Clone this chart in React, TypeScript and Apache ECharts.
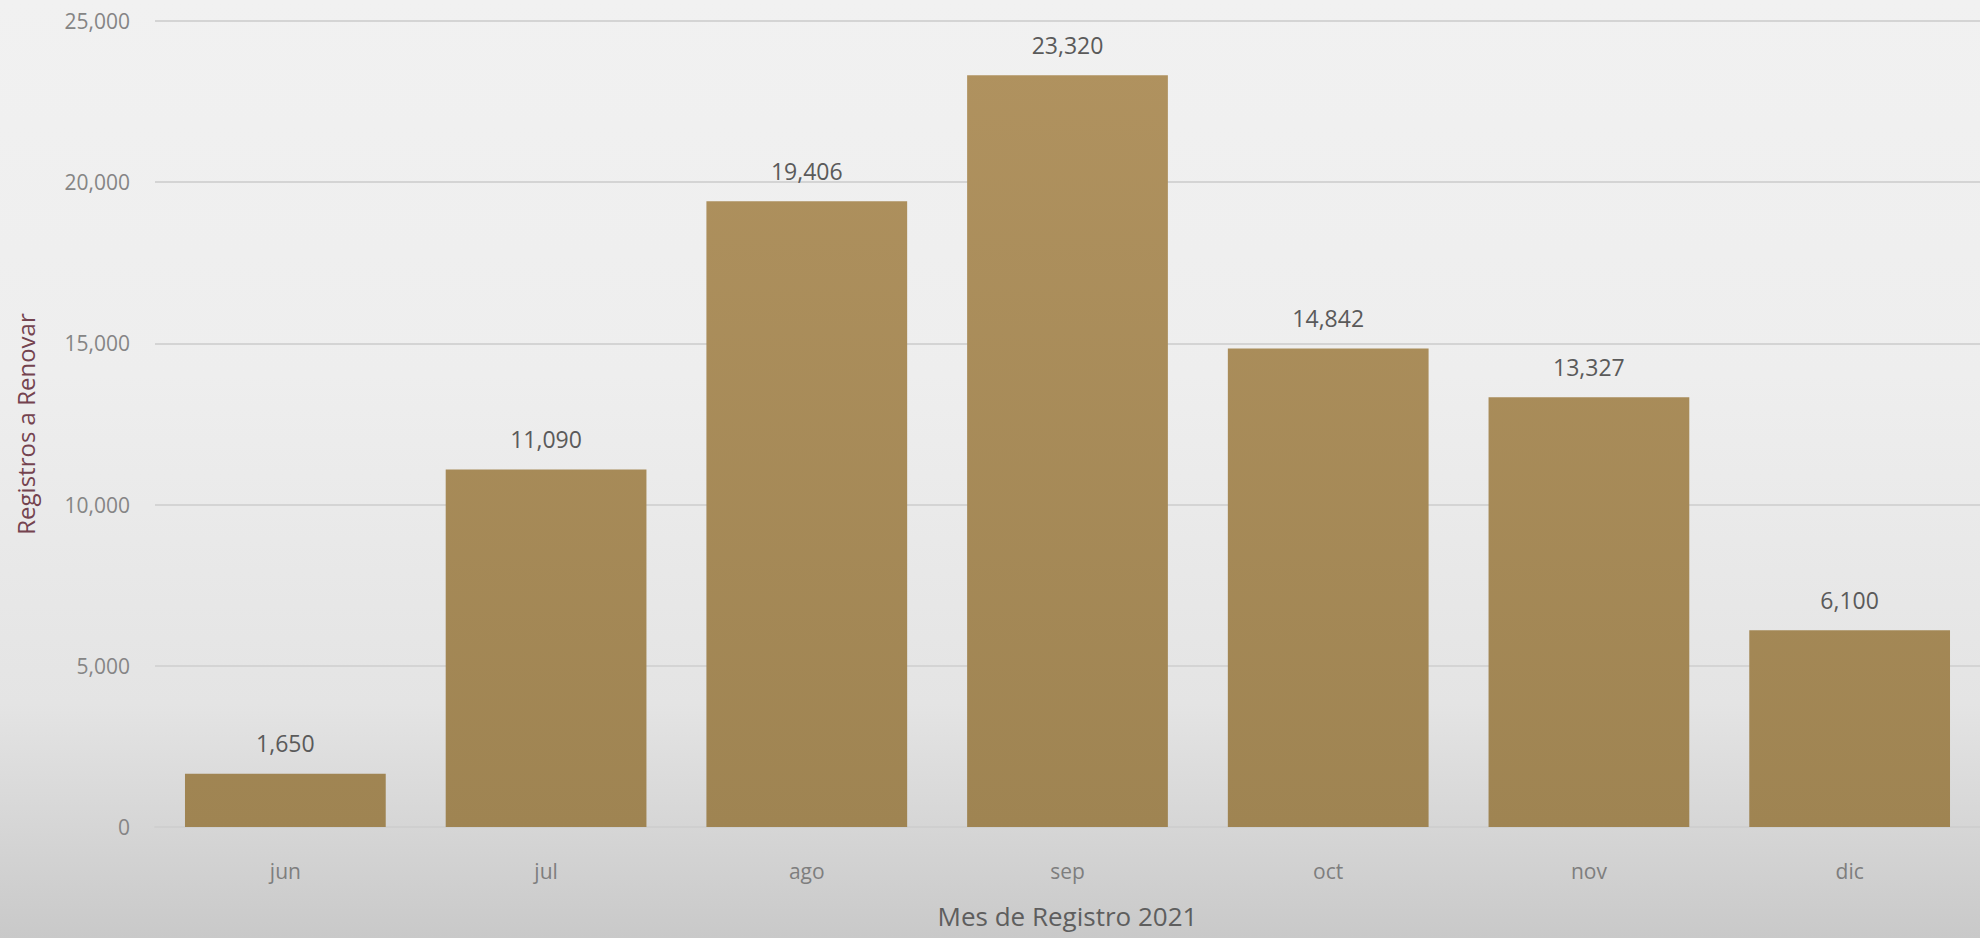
import React, { useEffect, useRef } from "react";
import * as echarts from "echarts";

const months = ["jun", "jul", "ago", "sep", "oct", "nov", "dic"];
const registros = [1650, 11090, 19406, 23320, 14842, 13327, 6100];
const yMin = 0;
const yMax = 25000;
const yInterval = 5000;
const xTitle = "Mes de Registro 2021";
const yTitle = "Registros a Renovar";

const FONT = "'Open Sans', 'Noto Sans', sans-serif";
const fmt = (v: number) => v.toLocaleString("en-US");

export default function App() {
  const ref = useRef<HTMLDivElement>(null);

  useEffect(() => {
    if (!ref.current) return;
    const chart = echarts.init(ref.current, null, { renderer: "svg" });
    chart.setOption({
      animation: false,
      backgroundColor: "transparent",
      grid: { left: 155, right: -2, top: 21, bottom: 111, containLabel: false },
      xAxis: {
        type: "category",
        data: months,
        axisLine: { show: true, lineStyle: { color: "#cfcfcf", width: 2 } },
        axisTick: { show: false },
        axisLabel: { color: "#7e7e7e", fontSize: 21, fontFamily: FONT, margin: 33 },
        name: xTitle,
        nameLocation: "middle",
        nameGap: 76,
        nameTextStyle: { color: "#5e5e5e", fontSize: 26, fontFamily: FONT },
      },
      yAxis: {
        type: "value",
        min: yMin,
        max: yMax,
        interval: yInterval,
        axisLine: { show: false },
        axisTick: { show: false },
        axisLabel: {
          color: "#858585",
          fontSize: 21,
          fontFamily: FONT,
          margin: 25,
          formatter: (v: number) => fmt(v),
        },
        splitLine: { lineStyle: { color: "#d4d4d4", width: 2 } },
        name: yTitle,
        nameLocation: "middle",
        nameGap: 118,
        nameTextStyle: { color: "#74434f", fontSize: 24, fontFamily: FONT },
      },
      series: [
        {
          type: "bar",
          data: registros,
          barCategoryGap: "23%",
          itemStyle: {
            color: {
              type: "linear",
              x: 0,
              y: 60,
              x2: 0,
              y2: 827,
              global: true,
              colorStops: [
                { offset: 0, color: "#b0925f" },
                { offset: 1, color: "#9f8452" },
              ],
            },
          },
          label: {
            show: true,
            position: "top",
            distance: 19,
            color: "#5a5a5a",
            fontSize: 23,
            fontFamily: FONT,
            formatter: (p: any) => fmt(p.value),
          },
        },
      ],
    });
    return () => chart.dispose();
  }, []);

  return (
    <div
      style={{
        position: "fixed",
        left: 0,
        top: 0,
        width: 1980,
        height: 938,
        background:
          "linear-gradient(to bottom, #f1f1f1 0%, #eeeeee 40%, #e4e4e4 75%, #d6d6d6 88%, #c9c9c9 100%)",
      }}
    >
      <div ref={ref} style={{ width: 1980, height: 938 }} />
    </div>
  );
}
